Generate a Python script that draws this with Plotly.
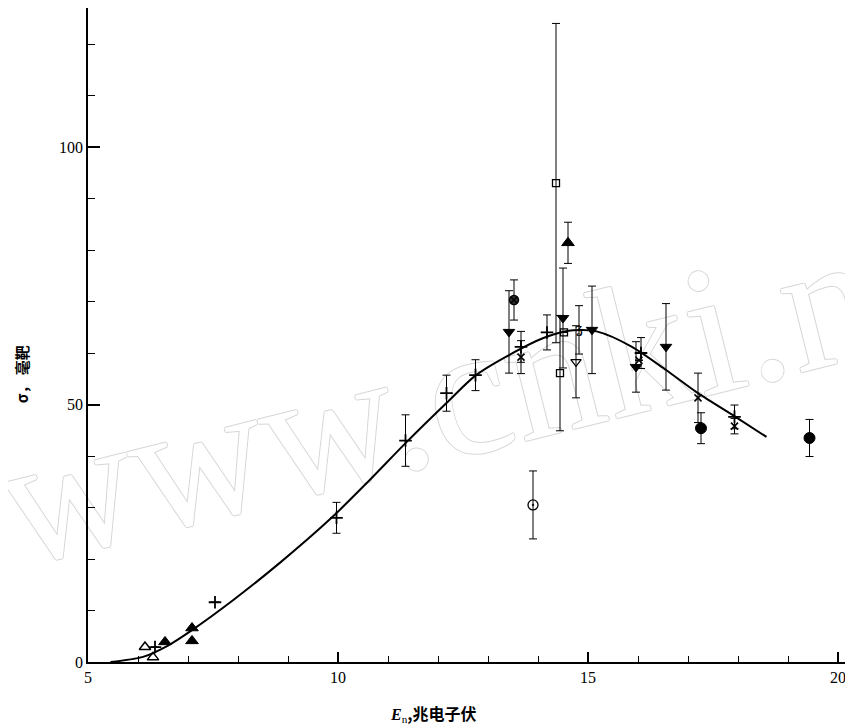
import plotly.graph_objects as go

# ---------------- data ----------------
curve_x = [5.45, 6.1, 6.6, 7.08, 7.9, 8.83, 9.87, 10.6, 11.37, 12.17, 12.76, 13.42, 14.16, 14.7, 15.17, 15.88, 16.56, 17.2, 17.95, 18.57]
curve_y = [0.0, 1.0, 3.2, 6.2, 12.0, 19.2, 28.0, 35.0, 42.7, 50.3, 55.7, 59.6, 63.1, 64.4, 64.2, 61.2, 56.7, 52.2, 47.6, 43.7]

tri_open_x = [6.14, 6.30]
tri_open_y = [2.9, 0.9]

tri_fill_x = [6.54, 7.08, 7.08, 14.60]
tri_fill_y = [3.9, 6.6, 4.1, 81.4]
tri_fill_e = [None, None, None, 4.0]

plus_x = [6.34, 7.54, 9.97, 11.35, 12.17, 12.75, 13.66, 14.18, 16.06, 17.93]
plus_y = [2.9, 11.6, 28.0, 43.0, 52.2, 55.7, 61.2, 64.0, 60.0, 47.6]
plus_e = [None, None, 3.0, 5.0, 3.5, 3.0, 3.0, 3.4, 3.0, 2.3]

cross_x = [13.66, 16.02, 17.20, 17.93]
cross_y = [59.2, 58.6, 51.3, 45.8]
cross_e = [3.2, None, 4.8, 1.5]

itri_fill_x = [13.42, 14.50, 15.08, 15.96, 16.56]
itri_fill_y = [64.1, 66.8, 64.5, 57.3, 61.2]
itri_fill_e = [8.0, 9.7, 8.5, 4.9, 8.4]

itri_open_x = [14.76]
itri_open_y = [58.3]
itri_open_e = [7.0]

circ_dot_x = [13.90]
circ_dot_y = [30.5]
circ_dot_e = [6.6]

circ_hatch_x = [13.52]
circ_hatch_y = [70.3]
circ_hatch_e = [3.9]

circ_fill_x = [17.26, 19.43]
circ_fill_y = [45.4, 43.5]
circ_fill_e = [3.0, 3.6]

sq_open_x = [14.36, 14.44, 14.52]
sq_open_y = [93.0, 56.1, 64.0]
sq_open_e = [31.0, 11.2, None]

z_x = [14.82]
z_y = [64.5]
z_e = [4.7]
z_label = ["ʓ"]

x_ticks = [5, 10, 15, 20]
y_ticks = [0, 50, 100]

# ---------------- figure ----------------
fig = go.Figure()

fig.add_trace(go.Scatter(x=curve_x, y=curve_y, mode="lines",
                         line=dict(color="black", width=2, shape="spline", smoothing=0.8),
                         hoverinfo="skip", showlegend=False))

def pts(x, y, e, symbol, size, lw=1.2, color="black"):
    err = None
    if e is not None:
        err = dict(type="data", array=e, visible=True, color="black",
                   thickness=1, width=4)
    fig.add_trace(go.Scatter(x=x, y=y, mode="markers",
                             marker=dict(symbol=symbol, size=size, color=color,
                                         line=dict(color="black", width=lw)),
                             error_y=err, cliponaxis=False, showlegend=False))

pts(tri_open_x, tri_open_y, None, "triangle-up-open", 10, 1.5)
pts(tri_fill_x, tri_fill_y, tri_fill_e, "triangle-up", 11, 1)
pts(plus_x, plus_y, plus_e, "cross-thin-open", 9, 1.8)
pts(cross_x, cross_y, cross_e, "x-thin-open", 7, 1.6)
pts(itri_fill_x, itri_fill_y, itri_fill_e, "triangle-down", 10, 1)
pts(itri_open_x, itri_open_y, itri_open_e, "triangle-down-open", 9, 1.3)
pts(circ_dot_x, circ_dot_y, circ_dot_e, "circle-open-dot", 10, 1.3)
pts(circ_hatch_x, circ_hatch_y, circ_hatch_e, "circle-x", 9, 1.5, color="#333333")
pts(circ_fill_x, circ_fill_y, circ_fill_e, "circle", 11, 1)
pts(sq_open_x, sq_open_y, sq_open_e, "square-open", 7, 1.3)

fig.add_trace(go.Scatter(x=z_x, y=z_y, mode="text", text=z_label,
                         textfont=dict(family="DejaVu Serif", size=13, color="black"),
                         error_y=dict(type="data", array=z_e, visible=True, color="black",
                                      thickness=1, width=4),
                         cliponaxis=False, showlegend=False))

# page body has an 8px default margin: figure is sized/offset to compensate
fig.update_layout(
    width=845, height=720,
    margin=dict(l=80, r=0, t=0, b=66, autoexpand=False),
    plot_bgcolor="white", paper_bgcolor="white",
    font=dict(family="Liberation Serif", size=15, color="black"),
    xaxis=dict(range=[5, 20.3], showline=True, linecolor="black", linewidth=1.5,
               showgrid=False, zeroline=False, tickvals=x_ticks,
               ticks="inside", ticklen=10, tickwidth=1.5, tickcolor="black",
               minor=dict(dtick=1, tick0=5, ticks="inside", ticklen=6, tickwidth=1.2, tickcolor="black"),
               tickfont=dict(family="Liberation Serif", size=16)),
    yaxis=dict(range=[0, 127], showline=True, linecolor="black", linewidth=1.5,
               showgrid=False, zeroline=False, tickvals=y_ticks,
               ticks="inside", ticklen=12, tickwidth=1.5, tickcolor="black",
               minor=dict(dtick=10, tick0=0, ticks="inside", ticklen=7, tickwidth=1.2, tickcolor="black"),
               tickfont=dict(family="Liberation Serif", size=16)),
)

# watermark: outlined text drawn beneath the data
wm = "#d6d6d6"
fig.add_shape(type="rect", xref="paper", yref="paper",
              x0=0.525, x1=0.545, y0=0.448, y1=0.468,
              line=dict(width=0), fillcolor="rgba(0,0,0,0)", layer="below",
              label=dict(text="www.cnki.net", textangle=-14, textposition="middle center",
                         font=dict(family="Liberation Serif", size=186, color="white",
                                   shadow=f"1px 0 0 {wm}, -1px 0 0 {wm}, 0 1px 0 {wm}, 0 -1px 0 {wm}")))

# axis titles
fig.add_annotation(text="<b>σ， 毫靶</b>", xref="paper", yref="paper",
                   x=-0.0876, y=0.44, xanchor="center", yanchor="middle",
                   showarrow=False, textangle=-90,
                   font=dict(family="Noto Sans CJK SC", size=15, color="black"))
fig.add_annotation(text="<span style='font-family:Liberation Serif'><b><i>E</i></b><sub>n</sub></span><b>,兆电子伏</b>",
                   xref="paper", yref="paper",
                   x=0.451, y=-0.078, xanchor="center", yanchor="middle",
                   showarrow=False,
                   font=dict(family="Noto Sans CJK SC", size=16, color="black"))

fig.write_html("out.html")
